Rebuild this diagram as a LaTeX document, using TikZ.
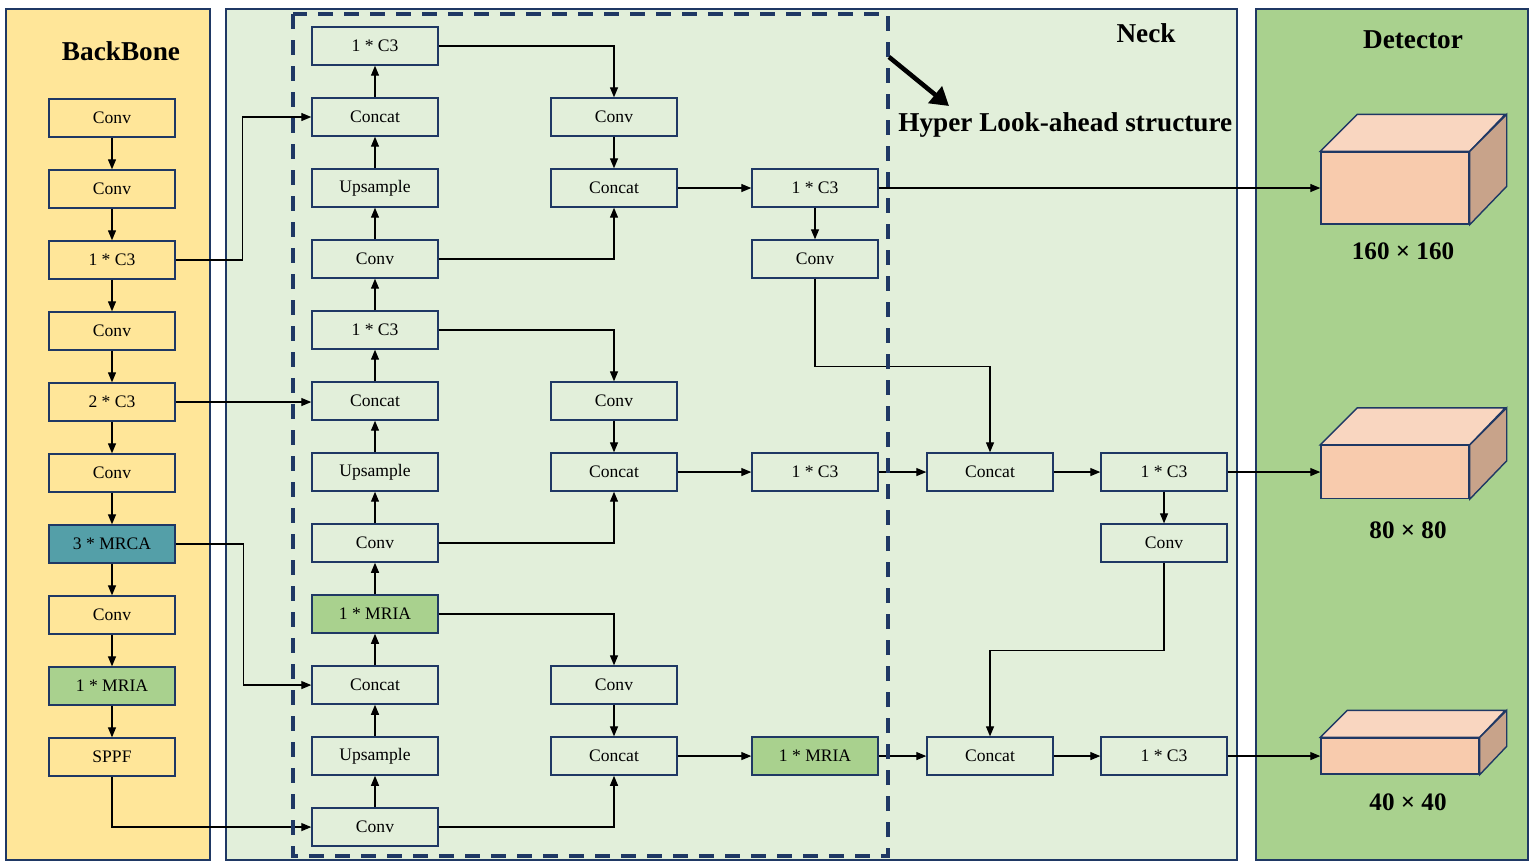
\documentclass[tikz,border=0pt]{standalone}
\usepackage{fontspec}
\setmainfont{Liberation Serif}
\usetikzlibrary{positioning,arrows.meta}

\definecolor{bbyellow}{HTML}{FFE699}
\definecolor{neckbg}{HTML}{E2EFDA}
\definecolor{detgreen}{HTML}{A9D18E}
\definecolor{mrcateal}{HTML}{549FA8}
\definecolor{boxline}{HTML}{1F3864}
\definecolor{cubefront}{HTML}{F8CBAD}
\definecolor{cubetop}{HTML}{F9D6C0}
\definecolor{cubeside}{HTML}{C8A38A}

\tikzset{
  blk/.style={draw=boxline, line width=0.8pt, minimum width=2.52cm, minimum height=0.76cm, inner sep=0pt, font=\fontsize{10}{12}\selectfont},
  bb/.style={blk, fill=bbyellow},
  nk/.style={blk, fill=neckbg},
  mria/.style={blk, fill=detgreen},
  arr/.style={-{Triangle[length=0.2cm,width=0.16cm]}, line width=0.7pt},
  ttl/.style={font=\fontsize{15.5}{18}\selectfont\bfseries},
  sizelbl/.style={font=\fontsize{14.3}{17}\selectfont\bfseries},
  cube/.style={draw=boxline, line width=0.8pt, inner sep=0pt},
}

\begin{document}
\begin{tikzpicture}[node distance=0.632cm]
  \useasboundingbox (0,0) rectangle (30.68,-17.34);

  % panels
  \filldraw[fill=bbyellow, draw=boxline, line width=0.6pt] (0.12,-0.18) rectangle (4.2,-17.2);
  \filldraw[fill=neckbg, draw=boxline, line width=0.6pt] (4.52,-0.18) rectangle (24.74,-17.2);
  \filldraw[fill=detgreen, draw=boxline, line width=0.6pt] (25.12,-0.18) rectangle (30.56,-17.2);

  \node[ttl] (tBack) at (2.42,-1.02) {BackBone};
  \node[ttl] (tNeck) at (22.92,-0.66) {Neck};
  \node[ttl] (tDet) at (28.26,-0.8) {Detector};

  % backbone
  \node[bb] (b1) at (2.24,-2.36) {Conv};
  \node[bb, below=of b1] (b2) {Conv};
  \node[bb, below=of b2] (b3) {1 * C3};
  \node[bb, below=of b3] (b4) {Conv};
  \node[bb, below=of b4] (b5) {2 * C3};
  \node[bb, below=of b5] (b6) {Conv};
  \node[blk, fill=mrcateal, below=of b6] (b7) {3 * MRCA};
  \node[bb, below=of b7] (b8) {Conv};
  \node[mria, below=of b8] (b9) {1 * MRIA};
  \node[bb, below=of b9] (b10) {SPPF};

  % neck, first column
  \node[nk] (n1) at (7.5,-0.92) {1 * C3};
  \node[nk, below=of n1] (n2) {Concat};
  \node[nk, below=of n2] (n3) {Upsample};
  \node[nk, below=of n3] (n4) {Conv};
  \node[nk, below=of n4] (n5) {1 * C3};
  \node[nk, below=of n5] (n6) {Concat};
  \node[nk, below=of n6] (n7) {Upsample};
  \node[nk, below=of n7] (n8) {Conv};
  \node[mria, below=of n8] (n9) {1 * MRIA};
  \node[nk, below=of n9] (n10) {Concat};
  \node[nk, below=of n10] (n11) {Upsample};
  \node[nk, below=of n11] (n12) {Conv};

  % neck, second column
  \node[nk, right=2.232cm of n2] (c1) {Conv};
  \node[nk, right=2.232cm of n3] (c2) {Concat};
  \node[nk, right=2.232cm of n6] (c3) {Conv};
  \node[nk, right=2.232cm of n7] (c4) {Concat};
  \node[nk, right=2.232cm of n10] (c5) {Conv};
  \node[nk, right=2.232cm of n11] (c6) {Concat};

  % neck, right part
  \node[nk, right=1.472cm of c2] (d1) {1 * C3};
  \node[nk, below=of d1] (d2) {Conv};
  \node[nk, right=1.472cm of c4] (d3) {1 * C3};
  \node[mria, right=1.472cm of c6] (d4) {1 * MRIA};
  \node[nk, right=0.952cm of d3] (e1) {Concat};
  \node[nk, right=0.952cm of d4] (e2) {Concat};
  \node[nk, right=0.932cm of e1] (f1) {1 * C3};
  \node[nk, below=of f1] (f2) {Conv};
  \node[nk, right=0.932cm of e2] (f3) {1 * C3};

  % detector heads
  \node[cube, fill=cubefront, minimum width=2.96cm, minimum height=1.44cm] (k160) at (27.9,-3.76) {};
  \filldraw[fill=cubetop, draw=boxline, line width=0.8pt] (k160.north west) -- ++(0.74,0.74) -- ++(2.96,0) -- (k160.north east) -- cycle;
  \filldraw[fill=cubeside, draw=boxline, line width=0.8pt] (k160.north east) -- ++(0.74,0.74) -- ++(0,-1.44) -- (k160.south east) -- cycle;
  \node[sizelbl] (l160) at (28.06,-5.02) {160 × 160};

  \node[cube, fill=cubefront, minimum width=2.96cm, minimum height=1.06cm] (k80) at (27.9,-9.44) {};
  \filldraw[fill=cubetop, draw=boxline, line width=0.8pt] (k80.north west) -- ++(0.74,0.74) -- ++(2.96,0) -- (k80.north east) -- cycle;
  \filldraw[fill=cubeside, draw=boxline, line width=0.8pt] (k80.north east) -- ++(0.74,0.74) -- ++(0,-1.06) -- (k80.south east) -- cycle;
  \node[sizelbl] (l80) at (28.16,-10.6) {80 × 80};

  \node[cube, fill=cubefront, minimum width=3.16cm, minimum height=0.72cm] (k40) at (28.0,-15.12) {};
  \filldraw[fill=cubetop, draw=boxline, line width=0.8pt] (k40.north west) -- ++(0.54,0.54) -- ++(3.16,0) -- (k40.north east) -- cycle;
  \filldraw[fill=cubeside, draw=boxline, line width=0.8pt] (k40.north east) -- ++(0.54,0.54) -- ++(0,-0.72) -- (k40.south east) -- cycle;
  \node[sizelbl] (l40) at (28.16,-16.04) {40 × 40};

  % backbone chain
  \foreach \a/\b in {b1/b2, b2/b3, b3/b4, b4/b5, b5/b6, b6/b7, b7/b8, b8/b9, b9/b10}
    \draw[arr] (\a) -- (\b);

  % first column, upwards
  \foreach \a/\b in {n12/n11, n11/n10, n10/n9, n9/n8, n8/n7, n7/n6, n6/n5, n5/n4, n4/n3, n3/n2, n2/n1}
    \draw[arr] (\a) -- (\b);

  % straight links
  \foreach \a/\b in {c1/c2, c3/c4, c5/c6, c2/d1, d1/d2, c4/d3, d3/e1, e1/f1, f1/f2, c6/d4, d4/e2, e2/f3}
    \draw[arr] (\a) -- (\b);

  % backbone to neck
  \draw[arr] (b3.east) -- ++(1.34,0) |- (n2.west);
  \draw[arr] (b5.east) -- (b5.east -| n6.west);
  \draw[arr] (b7.east) -- ++(1.36,0) |- (n10.west);
  \draw[arr] (b10.south) |- (n12.west);

  % first to second column
  \draw[arr] (n1.east) -| (c1.north);
  \draw[arr] (n4.east) -| (c2.south);
  \draw[arr] (n5.east) -| (c3.north);
  \draw[arr] (n8.east) -| (c4.south);
  \draw[arr] (n9.east) -| (c5.north);
  \draw[arr] (n12.east) -| (c6.south);

  % downward paths
  \draw[arr] (d2.south) -- ++(0,-1.76) -| (e1.north);
  \draw[arr] (f2.south) -- ++(0,-1.76) -| (e2.north);

  % to heads
  \draw[arr] (d1.east) -- (d1.east -| k160.west);
  \draw[arr] (f1.east) -- (f1.east -| k80.west);
  \draw[arr] (f3.east) -- (f3.east -| k40.west);

  % hyper look-ahead
  \draw[draw=boxline, line width=2.3pt, dash pattern=on 0.3cm off 0.22cm] (5.86,-0.28) rectangle (17.76,-17.12);
  \coordinate (hlaS) at (17.78,-1.14);
  \coordinate (hlaE) at (18.98,-2.12);
  \draw[-{Triangle[length=0.36cm,width=0.42cm]}, line width=2.6pt] (hlaS) -- (hlaE);
  \node[ttl, anchor=west, inner sep=0pt] (tHla) at (17.96,-2.5) {Hyper Look-ahead structure};
\end{tikzpicture}
\end{document}
